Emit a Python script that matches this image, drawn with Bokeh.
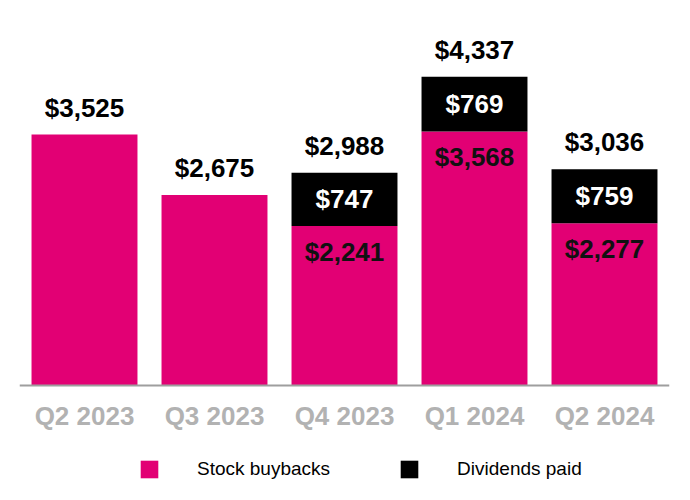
from bokeh.plotting import figure
from bokeh.models import ColumnDataSource, Range1d, Legend, LegendItem
from bokeh.core.properties import value
from bokeh.embed import file_html
from bokeh.resources import INLINE

quarters = ["Q2 2023", "Q3 2023", "Q4 2023", "Q1 2024", "Q2 2024"]
buybacks = [3525, 2675, 2241, 3568, 2277]
dividends = [0, 0, 747, 769, 759]
totals = [b + d for b, d in zip(buybacks, dividends)]

MAGENTA = "#E20074"
FONT = "Liberation Sans"

src = ColumnDataSource(dict(
    q=quarters, buy=buybacks, div=dividends, tot=totals,
    tot_lbl=[f"${v:,}" for v in totals],
))

idx = [i for i, d in enumerate(dividends) if d > 0]
inner = ColumnDataSource(dict(
    q=[quarters[i] for i in idx],
    buy=[buybacks[i] for i in idx],
    divmid=[buybacks[i] + dividends[i] / 2 for i in idx],
    buy_lbl=[f"${buybacks[i]:,}" for i in idx],
    div_lbl=[f"${dividends[i]:,}" for i in idx],
))

p = figure(x_range=quarters, y_range=Range1d(-1503, 5295),
           frame_width=650, frame_height=484,
           output_backend="svg", toolbar_location=None,
           min_border_left=19, min_border_right=12, min_border_top=8,
           min_border_bottom=0)
p.outline_line_color = None
p.xgrid.grid_line_color = None
p.ygrid.grid_line_color = None
p.yaxis.visible = False
p.background_fill_color = "white"

rs = p.vbar_stack(["buy", "div"], x="q", width=0.815, source=src,
                  color=[MAGENTA, "black"], line_color=None)

p.text(x="q", y="tot", text="tot_lbl", source=src, text_align="center",
       text_baseline="middle", y_offset=-27, text_font=value(FONT),
       text_font_style="bold", text_font_size="26px", text_color="black")
p.text(x="q", y="divmid", text="div_lbl", source=inner, text_align="center",
       text_baseline="middle", y_offset=0, text_font=value(FONT),
       text_font_style="bold", text_font_size="26px", text_color="white")
p.text(x="q", y="buy", text="buy_lbl", source=inner, text_align="center",
       text_baseline="middle", y_offset=26, text_font=value(FONT),
       text_font_style="bold", text_font_size="26px", text_color="#111111")

ax = p.xaxis[0]
ax.fixed_location = 0
ax.axis_line_color = "#9E9E9E"
ax.axis_line_width = 2
ax.major_tick_line_color = None
ax.minor_tick_line_color = None
ax.major_tick_out = 0
ax.major_tick_in = 0
ax.major_label_standoff = 16
ax.major_label_text_font = FONT
ax.major_label_text_font_style = "bold"
ax.major_label_text_font_size = "26px"
ax.major_label_text_color = "#B2B2B2"

legend = Legend(items=[LegendItem(label="Stock buybacks", renderers=[rs[0]]),
                       LegendItem(label="Dividends paid", renderers=[rs[1]])],
                orientation="horizontal", location=(119, 12),
                glyph_width=22, glyph_height=22, label_height=22,
                label_standoff=37, spacing=68,
                label_text_font=FONT, label_text_font_size="19px",
                label_text_color="black", border_line_color=None,
                background_fill_alpha=0, padding=0, margin=0)
p.add_layout(legend, "center")

open("out.html", "w").write(file_html(p, INLINE))
